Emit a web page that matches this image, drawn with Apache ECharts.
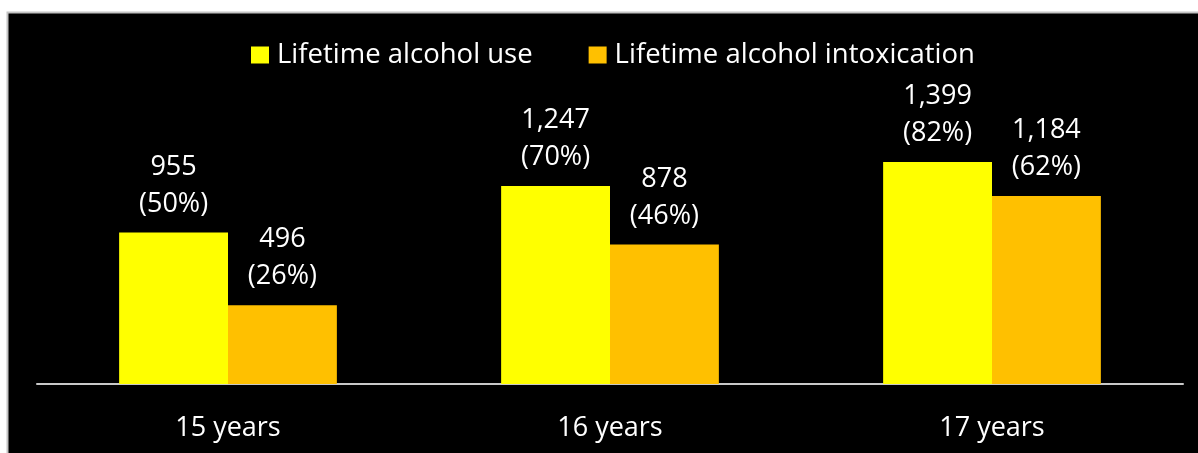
<!DOCTYPE html>
<html><head><meta charset="utf-8">
<script src="https://cdn.jsdelivr.net/npm/echarts@6/dist/echarts.min.js"></script>
<style>html,body{margin:0;padding:0;background:#fff;}#c{width:1198px;height:453px;}</style>
</head><body><div id="c"></div>
<script>
const categories = ['15 years', '16 years', '17 years'];
const useCounts = [955, 1247, 1399];
const usePct = ['50%', '70%', '82%'];
const intoxCounts = [496, 878, 1184];
const intoxPct = ['26%', '46%', '62%'];
const seriesNames = ['Lifetime alcohol use', 'Lifetime alcohol intoxication'];

const fmt = n => n.toLocaleString('en-US');
const FONT = '"Open Sans", "Noto Sans", sans-serif';
const chart = echarts.init(document.getElementById('c'));
function lbl(pcts) {
  return {
    show: true, position: 'top', distance: 10, color: '#fff',
    fontFamily: FONT, fontSize: 27, lineHeight: 37,
    formatter: p => fmt(p.value) + '\n(' + pcts[p.dataIndex] + ')'
  };
}
chart.setOption({
  backgroundColor: '#fff',
  animation: false,
  graphic: [{
    type: 'rect', z: -10, silent: true,
    shape: { x: 7.5, y: 12.5, width: 1200, height: 450 },
    style: { fill: '#000', stroke: '#c4c4c4', lineWidth: 2 }
  }],
  legend: {
    top: 36, left: 246, itemWidth: 18, itemHeight: 17, itemGap: 56,
    icon: 'rect',
    textStyle: { color: '#fff', fontFamily: FONT, fontSize: 27.5, padding: [0, 0, 0, 3] },
    data: seriesNames
  },
  grid: { left: 37, right: 15, top: 130, bottom: 69, containLabel: false },
  xAxis: {
    type: 'category', data: categories,
    axisLine: { lineStyle: { color: '#c8c8c8', width: 2 } },
    axisTick: { show: false },
    axisLabel: { color: '#fff', fontFamily: FONT, fontSize: 27, margin: 31 }
  },
  yAxis: { type: 'value', min: 0, max: 1600, show: false, splitLine: { show: false } },
  series: [
    { name: seriesNames[0], type: 'bar', data: useCounts, barGap: '0%', barCategoryGap: '43%',
      itemStyle: { color: '#FFFF00' }, label: lbl(usePct) },
    { name: seriesNames[1], type: 'bar', data: intoxCounts,
      itemStyle: { color: '#FFC000' }, label: lbl(intoxPct) }
  ]
});
</script></body></html>
